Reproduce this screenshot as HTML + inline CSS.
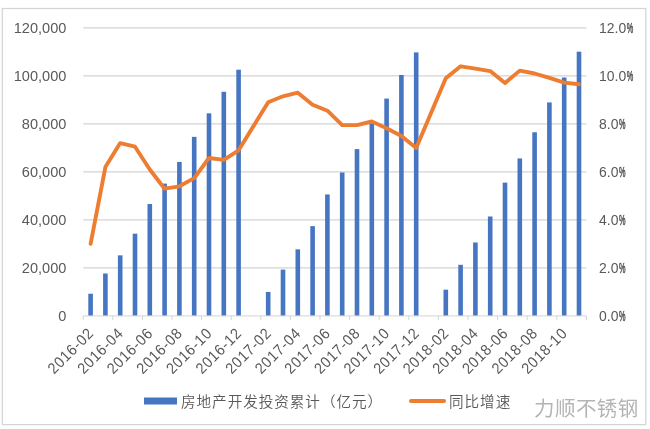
<!DOCTYPE html>
<html><head><meta charset="utf-8"><title>chart</title>
<style>
html,body{margin:0;padding:0;background:#fff;width:650px;height:429px;overflow:hidden}
svg{display:block;will-change:transform;filter:blur(0.4px)}
.ax{font-family:"Liberation Sans",Arial,sans-serif;font-size:15.5px;fill:#595959}
.lg{font-family:"Liberation Sans","Noto Sans CJK SC",sans-serif;font-size:14.6px;font-weight:350;letter-spacing:0.95px;fill:#595959}
.wm{font-family:"Liberation Sans","Noto Sans CJK SC",sans-serif;font-size:20.5px;font-weight:400;letter-spacing:0.45px;fill:#b4b4b4}
</style></head>
<body>
<svg width="650" height="429" viewBox="0 0 650 429">
<rect x="2.3" y="8.5" width="643.5" height="416.1" fill="none" stroke="#d4d4d4" stroke-width="1.25"/>
<line x1="83.2" x2="586.4" y1="267.90" y2="267.90" stroke="#d3d3d3" stroke-width="1.2"/>
<line x1="83.2" x2="586.4" y1="219.90" y2="219.90" stroke="#d3d3d3" stroke-width="1.2"/>
<line x1="83.2" x2="586.4" y1="171.90" y2="171.90" stroke="#d3d3d3" stroke-width="1.2"/>
<line x1="83.2" x2="586.4" y1="123.90" y2="123.90" stroke="#d3d3d3" stroke-width="1.2"/>
<line x1="83.2" x2="586.4" y1="75.90" y2="75.90" stroke="#d3d3d3" stroke-width="1.2"/>
<line x1="83.2" x2="586.4" y1="27.90" y2="27.90" stroke="#d3d3d3" stroke-width="1.2"/>
<rect x="88.30" y="293.73" width="4.6" height="22.17" fill="#4675c1"/>
<rect x="103.10" y="273.48" width="4.6" height="42.42" fill="#4675c1"/>
<rect x="117.90" y="255.35" width="4.6" height="60.55" fill="#4675c1"/>
<rect x="132.70" y="233.66" width="4.6" height="82.24" fill="#4675c1"/>
<rect x="147.50" y="203.99" width="4.6" height="111.91" fill="#4675c1"/>
<rect x="162.30" y="183.61" width="4.6" height="132.29" fill="#4675c1"/>
<rect x="177.10" y="161.94" width="4.6" height="153.96" fill="#4675c1"/>
<rect x="191.90" y="136.86" width="4.6" height="179.04" fill="#4675c1"/>
<rect x="206.70" y="113.34" width="4.6" height="202.56" fill="#4675c1"/>
<rect x="221.50" y="91.77" width="4.6" height="224.13" fill="#4675c1"/>
<rect x="236.30" y="69.71" width="4.6" height="246.19" fill="#4675c1"/>
<rect x="265.90" y="291.95" width="4.6" height="23.95" fill="#4675c1"/>
<rect x="280.70" y="269.60" width="4.6" height="46.30" fill="#4675c1"/>
<rect x="295.50" y="249.34" width="4.6" height="66.56" fill="#4675c1"/>
<rect x="310.30" y="226.13" width="4.6" height="89.77" fill="#4675c1"/>
<rect x="325.10" y="194.44" width="4.6" height="121.46" fill="#4675c1"/>
<rect x="339.90" y="172.47" width="4.6" height="143.43" fill="#4675c1"/>
<rect x="354.70" y="149.11" width="4.6" height="166.79" fill="#4675c1"/>
<rect x="369.50" y="122.35" width="4.6" height="193.55" fill="#4675c1"/>
<rect x="384.30" y="98.59" width="4.6" height="217.31" fill="#4675c1"/>
<rect x="399.10" y="74.97" width="4.6" height="240.93" fill="#4675c1"/>
<rect x="413.90" y="52.38" width="4.6" height="263.52" fill="#4675c1"/>
<rect x="443.50" y="289.68" width="4.6" height="26.22" fill="#4675c1"/>
<rect x="458.30" y="264.80" width="4.6" height="51.10" fill="#4675c1"/>
<rect x="473.10" y="242.48" width="4.6" height="73.42" fill="#4675c1"/>
<rect x="487.90" y="216.49" width="4.6" height="99.41" fill="#4675c1"/>
<rect x="502.70" y="182.63" width="4.6" height="133.27" fill="#4675c1"/>
<rect x="517.50" y="158.44" width="4.6" height="157.46" fill="#4675c1"/>
<rect x="532.30" y="132.25" width="4.6" height="183.65" fill="#4675c1"/>
<rect x="547.10" y="102.42" width="4.6" height="213.48" fill="#4675c1"/>
<rect x="561.90" y="77.52" width="4.6" height="238.38" fill="#4675c1"/>
<rect x="576.70" y="51.70" width="4.6" height="264.20" fill="#4675c1"/>
<line x1="83.2" x2="586.4" y1="315.90" y2="315.90" stroke="#d3d3d3" stroke-width="1"/>
<line x1="83.20" x2="83.20" y1="315.90" y2="319.90" stroke="#d3d3d3" stroke-width="1"/>
<line x1="112.80" x2="112.80" y1="315.90" y2="319.90" stroke="#d3d3d3" stroke-width="1"/>
<line x1="142.40" x2="142.40" y1="315.90" y2="319.90" stroke="#d3d3d3" stroke-width="1"/>
<line x1="172.00" x2="172.00" y1="315.90" y2="319.90" stroke="#d3d3d3" stroke-width="1"/>
<line x1="201.60" x2="201.60" y1="315.90" y2="319.90" stroke="#d3d3d3" stroke-width="1"/>
<line x1="231.20" x2="231.20" y1="315.90" y2="319.90" stroke="#d3d3d3" stroke-width="1"/>
<line x1="260.80" x2="260.80" y1="315.90" y2="319.90" stroke="#d3d3d3" stroke-width="1"/>
<line x1="290.40" x2="290.40" y1="315.90" y2="319.90" stroke="#d3d3d3" stroke-width="1"/>
<line x1="320.00" x2="320.00" y1="315.90" y2="319.90" stroke="#d3d3d3" stroke-width="1"/>
<line x1="349.60" x2="349.60" y1="315.90" y2="319.90" stroke="#d3d3d3" stroke-width="1"/>
<line x1="379.20" x2="379.20" y1="315.90" y2="319.90" stroke="#d3d3d3" stroke-width="1"/>
<line x1="408.80" x2="408.80" y1="315.90" y2="319.90" stroke="#d3d3d3" stroke-width="1"/>
<line x1="438.40" x2="438.40" y1="315.90" y2="319.90" stroke="#d3d3d3" stroke-width="1"/>
<line x1="468.00" x2="468.00" y1="315.90" y2="319.90" stroke="#d3d3d3" stroke-width="1"/>
<line x1="497.60" x2="497.60" y1="315.90" y2="319.90" stroke="#d3d3d3" stroke-width="1"/>
<line x1="527.20" x2="527.20" y1="315.90" y2="319.90" stroke="#d3d3d3" stroke-width="1"/>
<line x1="556.80" x2="556.80" y1="315.90" y2="319.90" stroke="#d3d3d3" stroke-width="1"/>
<line x1="586.40" x2="586.40" y1="315.90" y2="319.90" stroke="#d3d3d3" stroke-width="1"/>
<polyline points="90.60,243.90 105.40,167.10 120.20,143.10 135.00,146.70 149.80,169.50 164.60,188.70 179.40,186.30 194.20,178.14 209.00,157.98 223.80,159.90 238.60,150.30 268.20,102.30 283.00,96.30 297.80,92.70 312.60,104.70 327.40,110.70 342.20,125.10 357.00,125.10 371.80,121.50 386.60,128.22 401.40,135.90 416.20,147.90 445.80,78.30 460.60,66.30 475.40,68.70 490.20,71.10 505.00,83.10 519.80,70.62 534.60,73.50 549.40,77.82 564.20,82.62 579.00,84.30" fill="none" stroke="#ed7d31" stroke-width="3.9" stroke-linejoin="round" stroke-linecap="round"/>
<text text-anchor="end" class="ax" transform="translate(66.4 321.05) scale(0.94 1)">0</text>
<text text-anchor="end" class="ax" transform="translate(66.4 273.05) scale(0.94 1)">20,000</text>
<text text-anchor="end" class="ax" transform="translate(66.4 225.05) scale(0.94 1)">40,000</text>
<text text-anchor="end" class="ax" transform="translate(66.4 177.05) scale(0.94 1)">60,000</text>
<text text-anchor="end" class="ax" transform="translate(66.4 129.05) scale(0.94 1)">80,000</text>
<text text-anchor="end" class="ax" transform="translate(66.4 81.05) scale(0.94 1)">100,000</text>
<text text-anchor="end" class="ax" transform="translate(66.4 33.05) scale(0.94 1)">120,000</text>
<text class="ax" transform="translate(599.0 321.05) scale(0.9 1)">0.0</text>
<text class="ax" transform="translate(618.89 321.05) scale(0.47 1)" stroke="#595959" stroke-width="0.5" vector-effect="non-scaling-stroke">%</text>
<text class="ax" transform="translate(599.0 273.05) scale(0.9 1)">2.0</text>
<text class="ax" transform="translate(618.89 273.05) scale(0.47 1)" stroke="#595959" stroke-width="0.5" vector-effect="non-scaling-stroke">%</text>
<text class="ax" transform="translate(599.0 225.05) scale(0.9 1)">4.0</text>
<text class="ax" transform="translate(618.89 225.05) scale(0.47 1)" stroke="#595959" stroke-width="0.5" vector-effect="non-scaling-stroke">%</text>
<text class="ax" transform="translate(599.0 177.05) scale(0.9 1)">6.0</text>
<text class="ax" transform="translate(618.89 177.05) scale(0.47 1)" stroke="#595959" stroke-width="0.5" vector-effect="non-scaling-stroke">%</text>
<text class="ax" transform="translate(599.0 129.05) scale(0.9 1)">8.0</text>
<text class="ax" transform="translate(618.89 129.05) scale(0.47 1)" stroke="#595959" stroke-width="0.5" vector-effect="non-scaling-stroke">%</text>
<text class="ax" transform="translate(599.0 81.05) scale(0.9 1)">10.0</text>
<text class="ax" transform="translate(626.65 81.05) scale(0.47 1)" stroke="#595959" stroke-width="0.5" vector-effect="non-scaling-stroke">%</text>
<text class="ax" transform="translate(599.0 33.05) scale(0.9 1)">12.0</text>
<text class="ax" transform="translate(626.65 33.05) scale(0.47 1)" stroke="#595959" stroke-width="0.5" vector-effect="non-scaling-stroke">%</text>
<text text-anchor="end" textLength="61.41" lengthAdjust="spacing" class="ax" transform="translate(94.20 334.70) rotate(-45) scale(0.925 1)">2016-02</text>
<text text-anchor="end" textLength="61.41" lengthAdjust="spacing" class="ax" transform="translate(123.80 334.70) rotate(-45) scale(0.925 1)">2016-04</text>
<text text-anchor="end" textLength="61.41" lengthAdjust="spacing" class="ax" transform="translate(153.40 334.70) rotate(-45) scale(0.925 1)">2016-06</text>
<text text-anchor="end" textLength="61.41" lengthAdjust="spacing" class="ax" transform="translate(183.00 334.70) rotate(-45) scale(0.925 1)">2016-08</text>
<text text-anchor="end" textLength="61.41" lengthAdjust="spacing" class="ax" transform="translate(212.60 334.70) rotate(-45) scale(0.925 1)">2016-10</text>
<text text-anchor="end" textLength="61.41" lengthAdjust="spacing" class="ax" transform="translate(242.20 334.70) rotate(-45) scale(0.925 1)">2016-12</text>
<text text-anchor="end" textLength="61.41" lengthAdjust="spacing" class="ax" transform="translate(271.80 334.70) rotate(-45) scale(0.925 1)">2017-02</text>
<text text-anchor="end" textLength="61.41" lengthAdjust="spacing" class="ax" transform="translate(301.40 334.70) rotate(-45) scale(0.925 1)">2017-04</text>
<text text-anchor="end" textLength="61.41" lengthAdjust="spacing" class="ax" transform="translate(331.00 334.70) rotate(-45) scale(0.925 1)">2017-06</text>
<text text-anchor="end" textLength="61.41" lengthAdjust="spacing" class="ax" transform="translate(360.60 334.70) rotate(-45) scale(0.925 1)">2017-08</text>
<text text-anchor="end" textLength="61.41" lengthAdjust="spacing" class="ax" transform="translate(390.20 334.70) rotate(-45) scale(0.925 1)">2017-10</text>
<text text-anchor="end" textLength="61.41" lengthAdjust="spacing" class="ax" transform="translate(419.80 334.70) rotate(-45) scale(0.925 1)">2017-12</text>
<text text-anchor="end" textLength="61.41" lengthAdjust="spacing" class="ax" transform="translate(449.40 334.70) rotate(-45) scale(0.925 1)">2018-02</text>
<text text-anchor="end" textLength="61.41" lengthAdjust="spacing" class="ax" transform="translate(479.00 334.70) rotate(-45) scale(0.925 1)">2018-04</text>
<text text-anchor="end" textLength="61.41" lengthAdjust="spacing" class="ax" transform="translate(508.60 334.70) rotate(-45) scale(0.925 1)">2018-06</text>
<text text-anchor="end" textLength="61.41" lengthAdjust="spacing" class="ax" transform="translate(538.20 334.70) rotate(-45) scale(0.925 1)">2018-08</text>
<text text-anchor="end" textLength="61.41" lengthAdjust="spacing" class="ax" transform="translate(567.80 334.70) rotate(-45) scale(0.925 1)">2018-10</text>
<rect x="144" y="397.5" width="33" height="7" fill="#4675c1"/>
<text x="181" y="406.5" class="lg">房地产开发投资累计（亿元）</text>
<line x1="411" x2="444" y1="401" y2="401" stroke="#ed7d31" stroke-width="4" stroke-linecap="round"/>
<text x="449" y="406.5" class="lg">同比增速</text>
<text x="534" y="416" class="wm">力顺不锈钢</text>
</svg>
</body></html>
